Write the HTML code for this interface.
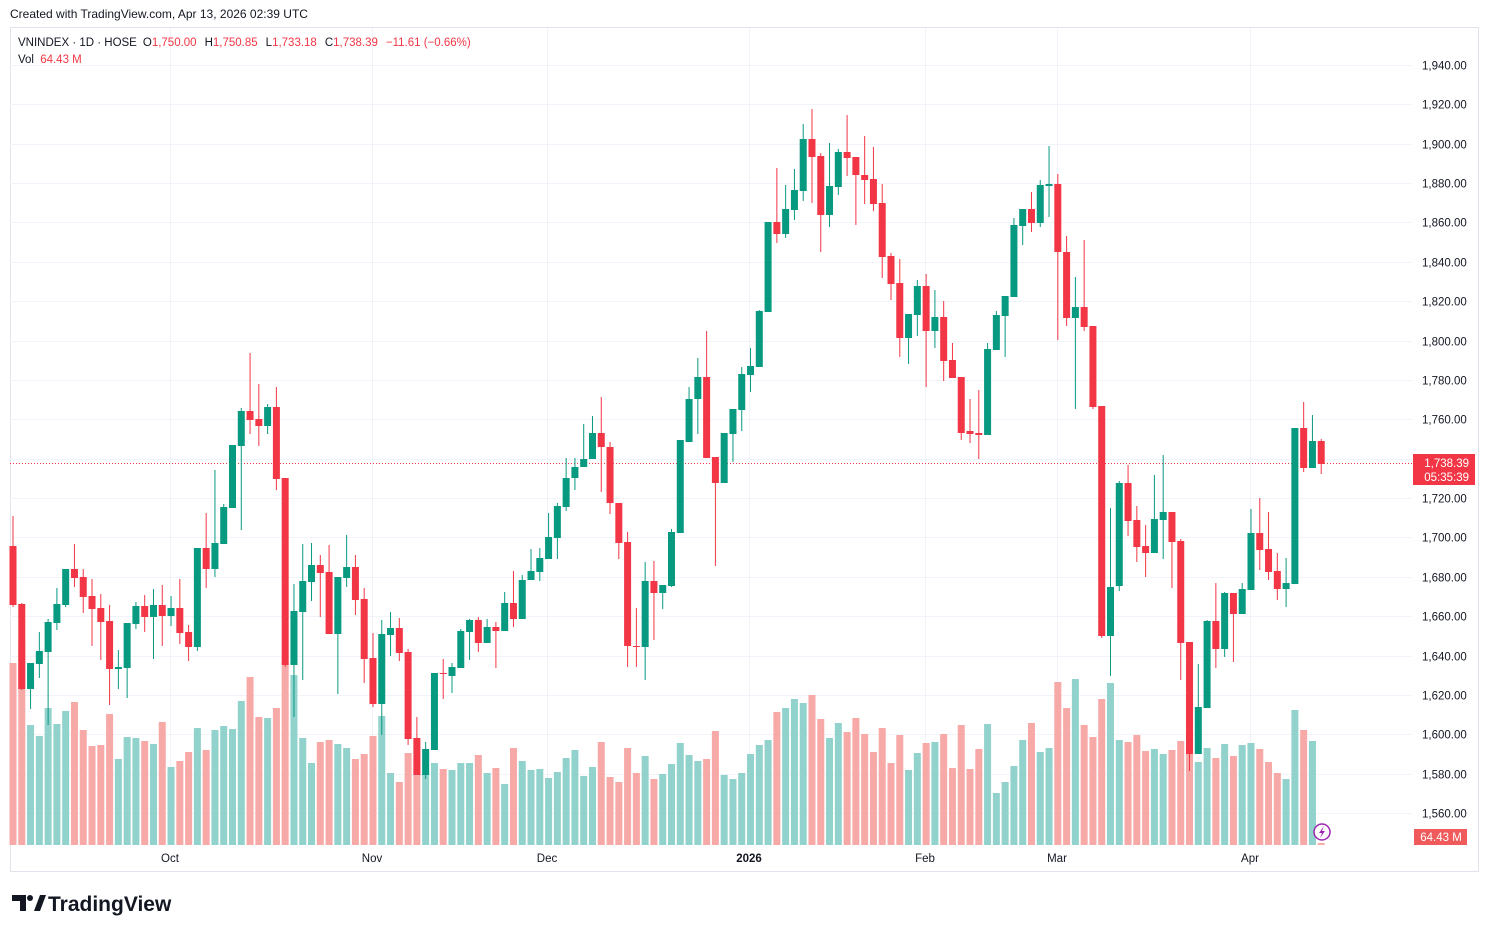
<!DOCTYPE html>
<html><head><meta charset="utf-8"><style>
html,body{margin:0;padding:0;background:#fff;}
svg{display:block;font-family:"Liberation Sans",sans-serif;}
</style></head><body>
<svg id="s" width="1489" height="933" viewBox="0 0 1489 933" xmlns="http://www.w3.org/2000/svg">
<rect width="1489" height="933" fill="#fff"/>
<text x="10" y="18" font-size="12" fill="#131722">Created with TradingView.com, Apr 13, 2026 02:39 UTC</text>
<rect x="10.5" y="27.5" width="1468" height="844" fill="none" stroke="#e0e3eb" stroke-width="1"/>
<g id="grid" stroke="#f0f3fa" stroke-width="1"></g>
<g id="vol"></g>
<line x1="10" y1="463.5" x2="1412" y2="463.5" stroke="#f23645" stroke-width="1" stroke-dasharray="1,2"/>
<g id="cdl"></g>
<g id="lbl" font-size="11.5" fill="#131722"></g>
<g font-size="11.5" fill="#131722" text-anchor="middle">
<text x="170" y="862">Oct</text><text x="372" y="862">Nov</text><text x="547" y="862">Dec</text>
<text x="749" y="862" font-weight="bold">2026</text><text x="925" y="862">Feb</text><text x="1057" y="862">Mar</text><text x="1250" y="862">Apr</text>
</g>
<rect x="1413" y="454" width="62" height="31" fill="#f23645"/>
<text x="1469" y="467" font-size="11.5" fill="#fff" text-anchor="end">1,738.39</text>
<text x="1469" y="481" font-size="11.5" fill="#fff" text-anchor="end">05:35:39</text>
<rect x="1414" y="829" width="53" height="16" fill="#f05a5a"/>
<text x="1441" y="841" font-size="11.5" fill="#fff" text-anchor="middle">64.43 M</text>
<circle cx="1322" cy="832" r="8" fill="#fff" stroke="#9c27b0" stroke-width="1.5"/>
<path d="M1324 826 L1319 833 L1322 833 L1320 838 L1325 831 L1322 831 Z" fill="#9c27b0"/>
<text x="18" y="46" font-size="11.5" fill="#131722">VNINDEX · 1D · HOSE<tspan dx="6">O</tspan><tspan fill="#f23645">1,750.00</tspan><tspan dx="8">H</tspan><tspan fill="#f23645">1,750.85</tspan><tspan dx="8">L</tspan><tspan fill="#f23645">1,733.18</tspan><tspan dx="8">C</tspan><tspan fill="#f23645">1,738.39</tspan><tspan dx="8" fill="#f23645">−11.61 (−0.66%)</tspan></text>
<text x="18" y="63" font-size="11.5" fill="#131722">Vol <tspan fill="#f23645" dx="3">64.43 M</tspan></text>
<g fill="#131722">
<path d="M12 895 h14 v16 h-6 v-10 h-8 z"/>
<circle cx="30" cy="898" r="3"/>
<path d="M34 911 l6 -16 h6 l-6 16 z"/>
</g>
<text x="48" y="911" font-size="21" font-weight="bold" fill="#131722">TradingView</text>
</svg>
<script>
var D=[[546,605,516,607,0,663],[604,689,603,690,0,641],[663,689,663,709,1,725],[651,664,632,678,1,736],[622,652,619,725,1,708],[604,623,588,630,1,724],[569,605,569,607,1,711],[569,578,544,587,0,702],[577,597,569,613,0,730],[596,609,579,646,0,746],[608,622,594,660,0,745],[621,669,605,705,0,714],[667,669,650,689,1,759],[623,668,623,698,1,737],[606,624,602,629,1,738],[606,617,595,632,0,741],[605,617,589,659,1,744],[605,616,585,646,0,722],[608,616,596,626,1,767],[608,633,579,644,0,761],[632,647,625,661,0,752],[548,647,548,651,1,728],[548,569,513,588,0,750],[543,569,470,577,1,730],[507,544,504,544,1,726],[445,508,445,508,1,729],[411,446,408,530,1,701],[411,420,353,434,0,677],[419,426,384,446,0,717],[407,426,404,434,1,718],[407,479,387,490,0,708],[478,665,478,667,0,662],[611,665,584,717,1,675],[581,612,544,680,1,738],[565,582,543,601,1,763],[565,573,555,617,0,742],[572,634,545,634,0,740],[577,634,577,694,1,744],[567,578,535,587,1,748],[567,600,555,615,0,759],[599,659,588,683,0,754],[658,704,633,707,0,736],[634,704,620,735,1,716],[628,635,612,656,1,773],[628,653,618,661,0,782],[652,739,649,745,0,753],[738,775,717,775,0,765],[749,775,742,779,1,773],[673,750,673,750,1,763],[673,674,659,699,0,769],[667,676,663,693,1,770],[631,668,629,668,1,763],[620,632,619,660,1,763],[620,643,617,652,0,755],[627,643,619,643,1,773],[627,631,622,668,0,768],[603,631,592,631,1,784],[603,619,571,627,0,748],[580,619,575,619,1,761],[571,580,549,580,1,770],[558,572,548,581,1,769],[537,559,513,559,1,778],[506,538,503,559,1,772],[478,507,458,511,1,758],[467,478,458,490,1,750],[459,467,424,467,1,776],[433,459,416,459,1,767],[433,447,397,492,0,742],[447,503,442,514,0,777],[503,543,503,559,0,782],[542,646,532,667,0,748],[646,647,608,667,0,773],[581,647,562,680,1,756],[581,593,561,640,0,779],[585,593,585,609,1,774],[532,586,529,587,1,764],[440,533,440,533,1,743],[399,442,387,442,1,755],[377,399,358,434,1,761],[377,458,331,458,0,759],[457,483,457,566,0,731],[433,483,433,483,1,775],[409,434,409,462,1,779],[374,410,367,431,1,773],[366,375,348,392,1,754],[311,367,310,367,1,745],[222,312,222,312,1,740],[222,234,168,243,0,712],[209,234,185,238,1,708],[190,210,169,220,1,699],[139,191,124,201,1,703],[139,157,109,203,0,695],[156,215,153,252,0,719],[186,215,143,227,1,738],[152,187,149,195,1,723],[152,158,115,176,0,732],[157,175,157,225,0,718],[175,180,136,204,0,734],[179,204,147,211,0,752],[203,257,184,278,0,728],[256,284,253,300,0,763],[283,338,259,357,0,735],[314,338,314,364,1,770],[286,315,280,336,1,753],[286,331,274,387,0,743],[317,331,290,348,1,742],[317,361,301,381,0,734],[360,378,343,378,0,768],[377,433,377,440,0,725],[431,434,399,443,0,769],[433,435,390,459,0,749],[349,435,343,435,1,724],[315,350,311,350,1,793],[296,316,296,357,1,782],[225,297,218,297,1,766],[209,226,209,245,1,740],[209,223,192,232,0,723],[185,223,180,227,1,752],[184,186,146,217,1,748],[184,252,174,340,0,682],[252,318,236,326,0,708],[307,318,277,409,1,679],[307,327,240,331,0,725],[326,407,326,409,0,737],[406,636,406,638,0,699],[587,636,508,676,1,683],[483,586,481,591,1,740],[483,521,465,536,0,742],[520,547,506,562,0,735],[546,553,525,577,0,751],[519,553,475,553,1,749],[512,520,455,559,1,754],[512,542,512,588,0,750],[541,643,539,680,0,741],[642,754,642,771,0,727],[707,754,664,754,1,762],[621,708,620,708,1,748],[621,649,583,668,0,758],[593,649,592,657,1,744],[593,614,593,662,0,756],[589,614,583,614,1,745],[533,590,509,590,1,743],[533,550,498,570,0,749],[549,572,512,580,0,762],[571,589,553,600,0,773],[583,589,558,607,1,779],[428,584,428,584,1,710],[428,468,402,472,0,730],[441,468,415,468,1,741],[441,464,439,474,0,843]];
var NS="http://www.w3.org/2000/svg";
function el(p,t,a){var e=document.createElementNS(NS,t);for(var k in a)e.setAttribute(k,a[k]);p.appendChild(e);return e;}
var g=document.getElementById("grid"),v=document.getElementById("vol"),c=document.getElementById("cdl"),l=document.getElementById("lbl");
for(var k=0;k<20;k++){var y=Math.round(65+k*39.37)+0.5;el(g,"line",{x1:10,y1:y,x2:1412,y2:y});
var p=1940-k*20;var t=el(l,"text",{x:1422,y:y+4});t.textContent="1,"+String(p).slice(1)+".00";}
[170,372,547,749,925,1057,1250].forEach(function(x){el(g,"line",{x1:x+0.5,y1:28,x2:x+0.5,y2:845});});
D.forEach(function(d,i){var x=13+i*8.78;var col=d[4]?"#089981":"#f23645";var vc=d[4]?"#92d2cc":"#f7a9a7";
el(v,"rect",{x:(x-3.5).toFixed(2),y:d[5],width:7,height:Math.max(1,845-d[5]),fill:vc});
el(c,"rect",{x:(x-0.5).toFixed(2),y:d[2],width:1,height:Math.max(1,d[3]-d[2]),fill:col});
el(c,"rect",{x:(x-3.5).toFixed(2),y:d[0],width:7,height:Math.max(1,d[1]-d[0]),fill:col});});
</script>
</body></html>
